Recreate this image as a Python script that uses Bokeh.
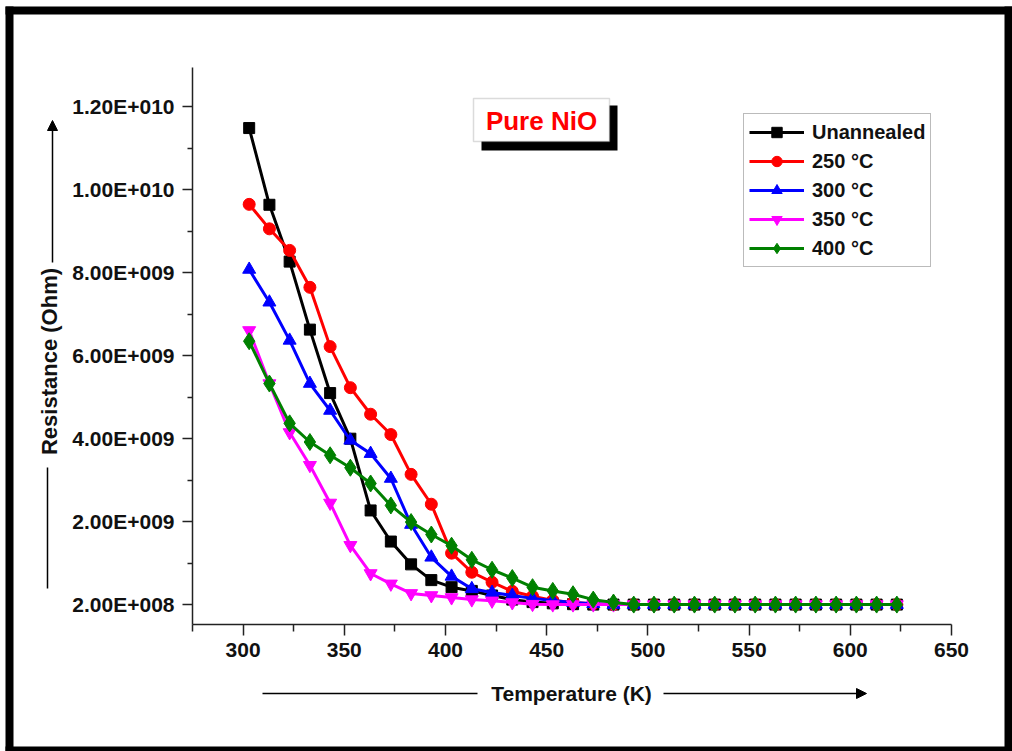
from math import pi
from bokeh.plotting import figure
from bokeh.models import (FixedTicker, Label, Arrow, NormalHead, BoxAnnotation,
                          Legend, LegendItem, ColumnDataSource, Range1d)
from bokeh.embed import file_html
from bokeh.resources import INLINE

# ---------------- data (resistance in units of 1e9 Ohm) ----------------
temperature = [303, 313, 323, 333, 343, 353, 363, 373, 383, 393, 403, 413, 423,
               433, 443, 453, 463, 473, 483, 493, 503, 513, 523, 533, 543, 553,
               563, 573, 583, 593, 603, 613, 623]
unannealed = [11.49, 9.64, 8.27, 6.63, 5.10, 4.00, 2.27, 1.52, 0.97, 0.59, 0.42,
              0.33, 0.22, 0.12, 0.06, 0.03, 0.01, 0, 0, 0, 0, 0, 0, 0, 0, 0, 0,
              0, 0, 0, 0, 0, 0]
ann_250 = [9.65, 9.06, 8.54, 7.65, 6.22, 5.23, 4.59, 4.10, 3.14, 2.42, 1.24, 0.78,
           0.54, 0.32, 0.20, 0.10, 0.05, 0.02, 0, 0, 0, 0, 0, 0, 0, 0, 0, 0, 0,
           0, 0, 0, 0]
ann_300 = [8.08, 7.29, 6.37, 5.33, 4.68, 3.96, 3.64, 3.04, 1.93, 1.14, 0.68, 0.38,
           0.29, 0.22, 0.15, 0.10, 0.05, 0.02, 0, 0, 0, 0, 0, 0, 0, 0, 0, 0, 0,
           0, 0, 0, 0]
ann_350 = [6.61, 5.33, 4.15, 3.36, 2.45, 1.43, 0.75, 0.50, 0.27, 0.22, 0.17, 0.12,
           0.09, 0.05, 0.01, 0, 0, 0, 0, 0, 0, 0, 0, 0, 0, 0, 0, 0, 0, 0, 0, 0, 0]
ann_400 = [6.35, 5.33, 4.37, 3.92, 3.60, 3.30, 2.92, 2.39, 1.99, 1.69, 1.42, 1.08,
           0.84, 0.64, 0.42, 0.33, 0.25, 0.12, 0.05, 0, 0, 0, 0, 0, 0, 0, 0, 0, 0,
           0, 0, 0, 0]

series_names = ["Unannealed", "250 \u00b0C", "300 \u00b0C", "350 \u00b0C", "400 \u00b0C"]
series_values = [unannealed, ann_250, ann_300, ann_350, ann_400]

y_tick_values = [0, 2e9, 4e9, 6e9, 8e9, 1e10, 1.2e10]
y_tick_labels = ["2.00E+008", "2.00E+009", "4.00E+009", "6.00E+009",
                 "8.00E+009", "1.00E+010", "1.20E+010"]
y_minor_ticks = [1e9, 3e9, 5e9, 7e9, 9e9, 1.1e10]
x_tick_values = [300, 350, 400, 450, 500, 550, 600, 650]
x_minor_ticks = [275, 325, 375, 425, 475, 525, 575, 625]

x_title = "Temperature (K)"
y_title = "Resistance (Ohm)"
box_title = "Pure NiO"

# ---------------- styles ----------------
colors = ["#000000", "#ff0000", "#0000ff", "#ff00ff", "#008000"]
markers = ["square", "circle", "triangle", "inverted_triangle", "diamond"]
msizes = [11, 12, 13, 13, 17]
FONT = "Liberation Sans"
W, H = 1012, 751

X0, X1 = 275, 650
Y0, Y1 = -0.48e9, 12.95e9
FL, FR, FT, FB = 192, 951, 67, 624   # frame edges in page px


def xd(px):
    return X0 + (px - FL) * (X1 - X0) / (FR - FL)


def yd(py):
    return Y0 + (FB - py) * (Y1 - Y0) / (FB - FT)


p = figure(width=W, height=H,
           x_range=Range1d(X0, X1), y_range=Range1d(Y0, Y1),
           output_backend="svg", toolbar_location=None,
           min_border_left=FL, min_border_right=W - FR,
           min_border_top=FT, min_border_bottom=H - FB)
p.outline_line_color = None
p.xgrid.visible = False
p.ygrid.visible = False
p.background_fill_color = "white"
p.border_fill_color = "white"

# axes
for ax in (p.xaxis[0], p.yaxis[0]):
    ax.axis_line_color = "#222222"
    ax.axis_line_width = 1.5
    ax.major_tick_line_color = "#222222"
    ax.minor_tick_line_color = "#222222"
    ax.major_tick_line_width = 1.5
    ax.minor_tick_line_width = 1.5
    ax.major_tick_in = 0
    ax.minor_tick_in = 0
    ax.major_label_text_font = FONT
    ax.major_label_text_font_style = "bold"
    ax.major_label_text_font_size = "21px"
    ax.major_label_text_color = "#111111"

p.xaxis.ticker = FixedTicker(ticks=x_tick_values, minor_ticks=x_minor_ticks)
p.xaxis.major_tick_out = 11
p.xaxis.minor_tick_out = 7
p.xaxis.major_label_standoff = 7

p.yaxis.ticker = FixedTicker(ticks=y_tick_values, minor_ticks=y_minor_ticks)
p.yaxis.major_tick_out = 10
p.yaxis.minor_tick_out = 5
p.yaxis.major_label_standoff = 8
p.yaxis.major_label_overrides = {v: l for v, l in zip(y_tick_values, y_tick_labels)}

# series
items = []
for name, vals, c, m, s in zip(series_names, series_values, colors, markers, msizes):
    src = ColumnDataSource(dict(x=temperature, y=[v * 1e9 for v in vals]))
    ln = p.line("x", "y", source=src, line_color=c, line_width=3)
    sc = p.scatter("x", "y", source=src, marker=m, size=s,
                   fill_color=c, line_color=c)
    items.append(LegendItem(label=name, renderers=[ln, sc]))

legend = Legend(items=items, location=(743 - FL, FB - 267))
legend.label_text_font = FONT
legend.label_text_font_style = "bold"
legend.label_text_font_size = "20px"
legend.label_text_color = "#111111"
legend.glyph_width = 55
legend.glyph_height = 26
legend.label_height = 26
legend.spacing = 3
legend.padding = 5
legend.margin = 0
legend.label_standoff = 8
legend.border_line_color = "#777777"
legend.border_line_width = 1.5
legend.background_fill_color = "white"
legend.background_fill_alpha = 1
p.add_layout(legend)

# title box with shadow
p.add_layout(BoxAnnotation(left=xd(481), right=xd(617), top=yd(105), bottom=yd(150),
                           fill_color="black", fill_alpha=1, line_color=None))
p.add_layout(BoxAnnotation(left=xd(473), right=xd(609), top=yd(98), bottom=yd(141),
                           fill_color="white", fill_alpha=1,
                           line_color="#888888", line_width=1.5))
p.add_layout(Label(x=xd(541), y=yd(120), text=box_title, text_font=FONT,
                   text_font_style="bold", text_font_size="26px", text_color="#ff0000",
                   text_align="center", text_baseline="middle"))

# ---------------- overlay canvas (page pixel coordinates) ----------------
ov = figure(width=W, height=H, x_range=Range1d(0, W), y_range=Range1d(H, 0),
            x_axis_location=None, y_axis_location=None, min_border=0,
            output_backend="svg", toolbar_location=None)
ov.xgrid.visible = False
ov.ygrid.visible = False
ov.outline_line_color = None
ov.background_fill_color = None
ov.border_fill_color = None
ov.styles = {"position": "absolute", "left": "0px", "top": "0px",
             "pointer-events": "none", "z-index": "5"}

# outer black frame of the picture
for l, r, t, b in [(5, 13, 6, 751), (5, W, 6, 14), (1004, W, 6, 751), (5, W, 746, 751)]:
    ov.add_layout(BoxAnnotation(left=l, right=r, top=t, bottom=b, fill_color="black",
                                fill_alpha=1, line_color=None))

ov.add_layout(Label(x=571, y=693, text=x_title, text_font=FONT,
                    text_font_style="bold", text_font_size="21px", text_color="#111111",
                    text_align="center", text_baseline="middle"))
ov.add_layout(Label(x=49, y=361, text=y_title, text_font=FONT, angle=pi / 2,
                    text_font_style="bold", text_font_size="22px", text_color="#111111",
                    text_align="center", text_baseline="middle"))

ov.add_layout(Arrow(x_start=262, y_start=693, x_end=477, y_end=693,
                    end=None, line_width=1.5, line_color="black"))
ov.add_layout(Arrow(x_start=663, y_start=693, x_end=866, y_end=693,
                    end=NormalHead(size=10, fill_color="black", line_color="black"),
                    line_width=1.5, line_color="black"))
ov.add_layout(Arrow(x_start=47, y_start=588, x_end=47, y_end=467,
                    end=None, line_width=1.5, line_color="black"))
ov.add_layout(Arrow(x_start=52, y_start=262, x_end=52, y_end=120,
                    end=NormalHead(size=10, fill_color="black", line_color="black"),
                    line_width=1.5, line_color="black"))

open("out.html", "w").write(file_html([p, ov], INLINE))
